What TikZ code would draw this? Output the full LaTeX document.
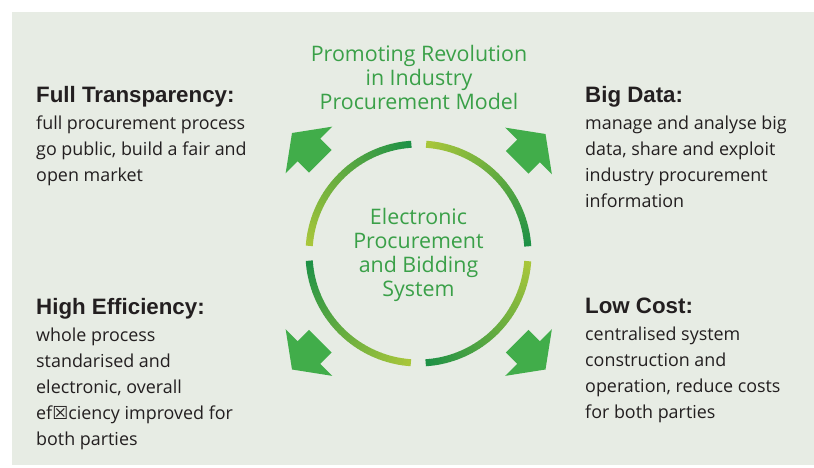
\documentclass[tikz,border=0pt]{standalone}
\usepackage{fontspec}
\setmainfont{Open Sans}
\newfontfamily\headfont{Liberation Sans}
\newfontfamily\boxfont{DejaVu Sans}
\usetikzlibrary{positioning}
\definecolor{bgpanel}{RGB}{231,236,228}
\definecolor{txtdark}{RGB}{35,31,32}
\definecolor{txtgreen}{RGB}{58,160,72}
\definecolor{arrgreen}{RGB}{65,173,74}
\definecolor{ringdark}{RGB}{30,145,70}
\definecolor{ringlight}{RGB}{168,198,58}
\tikzset{
  head/.style={inner sep=0pt, anchor=base west, text=txtdark,
    font={\headfont\bfseries\fontsize{22.3pt}{26pt}\selectfont}},
  body/.style={inner sep=0pt, align=left, text=txtdark,
    font={\fontsize{17.9pt}{26pt}\selectfont}},
  titletext/.style={inner sep=0pt, align=center, text=txtgreen,
    font={\fontsize{21.4pt}{23.8pt}\selectfont}},
  bigarrow/.pic={
    \fill[arrgreen] (0,0) -- (-24,33) -- (-24,16) -- (-40,16) -- (-40,-16)
      -- (-24,-16) -- (-24,-33) -- cycle;}}

\begin{document}
\begin{tikzpicture}[x=1pt, y=-1pt]
  \useasboundingbox (0,0) rectangle (814,467);
  \fill[bgpanel] (12,12) rectangle (814,465);
  \coordinate (c) at (418.5,253.5);
  \foreach \q in {0,90,180,270}
    \foreach \i in {0,...,39}{
      \pgfmathtruncatemacro\mix{\i*100/39}
      \pgfmathsetmacro\a{\q+4+2.05*\i}
      \draw[ringdark!\mix!ringlight, line width=7pt, shift={(c)}]
        (\a:109.5) -- (\a+2.3:109.5);
    }
  \pic[rotate=135] at (292,133) {bigarrow};
  \pic[rotate=45] at (545.5,134) {bigarrow};
  \pic[rotate=225] at (292,369.5) {bigarrow};
  \pic[rotate=-45] at (545.5,369.5) {bigarrow};

  \node (title) [titletext, anchor=north] at (419,45.5)
    {Promoting Revolution\\in Industry\\Procurement Model};
  \node (eps) [titletext, yshift=-1.5pt] at (c)
    {Electronic\\Procurement\\and Bidding\\System};

  \node (ftHead) [head] at (36,102) {Full Transparency:};
  \node (ftBody) [body, below=13.5pt of ftHead.base west, anchor=north west]
    {full procurement process\\go public, build a fair and\\open market};
  \node (bdHead) [head] at (585,102) {Big Data:};
  \node (bdBody) [body, below=13.5pt of bdHead.base west, anchor=north west]
    {manage and analyse big\\data, share and exploit\\industry procurement\\information};
  \node (heHead) [head] at (36,314) {High Efficiency:};
  \node (heBody) [body, below=13.5pt of heHead.base west, anchor=north west]
    {whole process\\standarised and\\electronic, overall\\ef{\boxfont ☒}ciency improved for\\both parties};
  \node (lcHead) [head] at (585,313.5) {Low Cost:};
  \node (lcBody) [body, below=13.5pt of lcHead.base west, anchor=north west]
    {centralised system\\construction and\\operation, reduce costs\\for both parties};
\end{tikzpicture}
\end{document}
